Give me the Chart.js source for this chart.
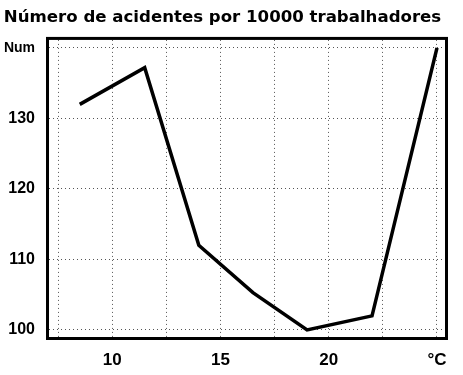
<!DOCTYPE html>
<html>
<head>
<meta charset="utf-8">
<script src="https://cdn.jsdelivr.net/npm/chart.js@4.4.1/dist/chart.umd.min.js"></script>
<style>
  body { margin: 0; background: #fff; }
  canvas { display: block; }
</style>
</head>
<body>
<canvas id="chartCanvas" width="463" height="375"></canvas>
<script>
// Datos
const temps = [8.5, 11.5, 14.0, 16.5, 19.0, 22.0, 25.0];
const accidents = [132, 137.2, 112, 105.3, 100, 102, 140];

// Ticks y etiquetas
const xTicks = [7.5, 10, 12.5, 15, 17.5, 20, 22.5, 25];
const xTickLabels = { 10: '10', 15: '15', 20: '20', 25: '°C' };
const yTicks = [100, 110, 120, 130, 140];
const yTickLabels = { 100: '100', 110: '110', 120: '120', 130: '130', 140: 'Num' };

const titleText = 'Número de acidentes por 10000 trabalhadores';

// Marco negro alrededor del área del gráfico
const framePlugin = {
    id: 'frame',
    afterDraw(chart) {
        const a = chart.chartArea;
        const c = chart.ctx;
        c.save();
        c.strokeStyle = '#000';
        c.lineWidth = 3;
        c.strokeRect(a.left - 1.5, a.top - 1.5, a.right - a.left + 3, a.bottom - a.top + 3);
        c.restore();
    }
};

const gridStyle = {
    color: '#555',
    lineWidth: 1,
    drawTicks: false
};

const ctx = document.getElementById('chartCanvas').getContext('2d');
const lineChart = new Chart(ctx, {
    type: 'line',
    data: {
        datasets: [{
            data: temps.map((t, i) => ({ x: t, y: accidents[i] })),
            borderColor: '#000',
            borderWidth: 3.5,
            pointRadius: 0,
            fill: false,
            tension: 0
        }]
    },
    options: {
        responsive: false,
        animation: false,
        layout: { padding: { left: 0, right: 18, top: 0, bottom: 0 } },
        plugins: {
            legend: { display: false },
            tooltip: { enabled: false },
            title: {
                display: true,
                text: titleText,
                color: '#000',
                font: { family: 'DejaVu Sans', size: 16.6, weight: 'bold' },
                padding: { top: 8, bottom: 12 }
            }
        },
        scales: {
            x: {
                type: 'linear',
                min: 7.08,
                max: 25.37,
                afterBuildTicks: s => { s.ticks = xTicks.map(v => ({ value: v })); },
                afterFit: s => { s.height = 38; },
                border: { display: false, dash: [1, 3] },
                grid: gridStyle,
                ticks: {
                    color: '#000',
                    padding: 13,
                    maxRotation: 0,
                    autoSkip: false,
                    font: { family: 'Liberation Sans', size: 17, weight: 'bold' },
                    callback: v => xTickLabels[v] || ''
                }
            },
            y: {
                min: 99.0,
                max: 141.14,
                afterBuildTicks: s => { s.ticks = yTicks.map(v => ({ value: v })); },
                afterFit: s => { s.width = 49; },
                border: { display: false, dash: [1, 3] },
                grid: gridStyle,
                ticks: {
                    color: '#000',
                    padding: 14,
                    autoSkip: false,
                    font: c => ({ family: 'Liberation Sans', size: c.tick && c.tick.value === 140 ? 14 : 16, weight: 'bold' }),
                    callback: v => yTickLabels[v] || ''
                }
            }
        }
    },
    plugins: [framePlugin]
});
</script>
</body>
</html>
